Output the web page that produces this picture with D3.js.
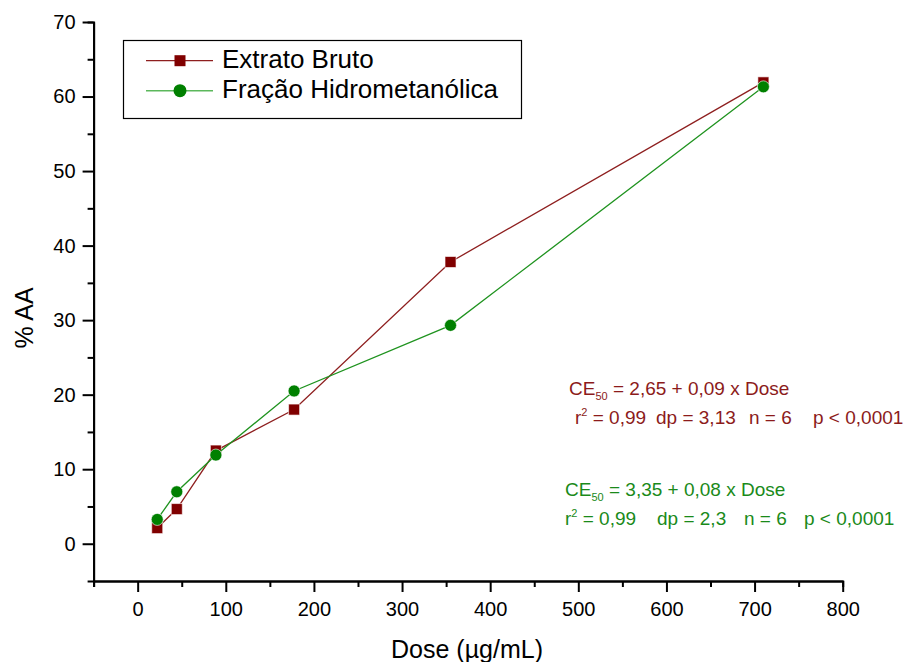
<!DOCTYPE html>
<html lang="pt">
<head>
<meta charset="UTF-8">
<script src="https://d3js.org/d3.v7.min.js"></script>
<style>
  body { margin: 0; background: #fff; }
  text { font-family: Arial, "Liberation Sans", sans-serif; }
</style>
</head>
<body>
<div class="chart"></div>
<script>
// data
var doses = [22.2, 44.4, 88.75, 177.5, 355, 710]
var extrato = [2.1, 4.65, 12.5, 18.0, 37.8, 61.9]
var fracao = [3.26, 6.97, 11.9, 20.5, 29.3, 61.3]
var seriesNames = ["Extrato Bruto", "Fração Hidrometanólica"]
var xTicks = [0, 100, 200, 300, 400, 500, 600, 700, 800]
var yTicks = [0, 10, 20, 30, 40, 50, 60, 70]

var width = 904, height = 662
var red = "#800000", redLine = "#8e1f1f", redText = "#8c1b1b"
var green = "#008000", greenLine = "#1f931f", greenText = "#1a8a1a"

var svg = d3.select(".chart").append("svg")
    .attr("width", width)
    .attr("height", height)

var x = d3.scaleLinear().domain([-50, 800]).range([93.6, 842.7])
var y = d3.scaleLinear().domain([-5, 70]).range([581, 22])

// minor ticks
svg.append("g")
    .attr("transform", "translate(0," + y(-5) + ")")
    .call(d3.axisBottom(x).tickValues(d3.range(-50, 800, 100)).tickSize(6).tickFormat(""))
svg.append("g")
    .attr("transform", "translate(" + x(-50) + ",0)")
    .call(d3.axisLeft(y).tickValues(d3.range(5, 70, 10)).tickSize(6).tickFormat(""))

// major axes
var xAxis = svg.append("g")
    .attr("transform", "translate(0," + y(-5) + ")")
    .call(d3.axisBottom(x).tickValues(xTicks).tickSize(11).tickPadding(10).tickSizeOuter(0))
var yAxis = svg.append("g")
    .attr("transform", "translate(" + x(-50) + ",0)")
    .call(d3.axisLeft(y).tickValues(yTicks).tickSize(11).tickPadding(7).tickSizeOuter(0))

svg.selectAll(".domain").attr("stroke", "#000").attr("stroke-width", 2)
svg.selectAll(".tick line").attr("stroke", "#000").attr("stroke-width", 2)
svg.selectAll(".tick text").attr("font-size", 20).attr("fill", "#000")
    .attr("font-family", "Arial, 'Liberation Sans', sans-serif")

// axis titles
svg.append("text")
    .attr("x", 467).attr("y", 658)
    .attr("text-anchor", "middle")
    .attr("font-size", 25)
    .text("Dose (µg/mL)")
svg.append("text")
    .attr("transform", "translate(33,318) rotate(-90)")
    .attr("text-anchor", "middle")
    .attr("font-size", 25)
    .text("% AA")

// lines
var line = d3.line()
    .x(function (d) { return x(d[0]) })
    .y(function (d) { return y(d[1]) })

var redData = doses.map(function (d, i) { return [d, extrato[i]] })
var greenData = doses.map(function (d, i) { return [d, fracao[i]] })

svg.append("path").datum(redData)
    .attr("d", line).attr("fill", "none")
    .attr("stroke", redLine).attr("stroke-width", 1.3)
svg.selectAll(".sq").data(redData).enter().append("rect")
    .attr("x", function (d) { return x(d[0]) - 5.5 })
    .attr("y", function (d) { return y(d[1]) - 5.5 })
    .attr("width", 11).attr("height", 11)
    .attr("fill", red).attr("stroke", "#fff").attr("stroke-opacity", 0.6).attr("stroke-width", 1)

svg.append("path").datum(greenData)
    .attr("d", line).attr("fill", "none")
    .attr("stroke", greenLine).attr("stroke-width", 1.3)
svg.selectAll(".ci").data(greenData).enter().append("circle")
    .attr("cx", function (d) { return x(d[0]) })
    .attr("cy", function (d) { return y(d[1]) })
    .attr("r", 6)
    .attr("fill", green).attr("stroke", "#fff").attr("stroke-opacity", 0.6).attr("stroke-width", 1)

// legend
var lg = svg.append("g")
lg.append("rect")
    .attr("x", 123.5).attr("y", 40.5).attr("width", 398).attr("height", 78)
    .attr("fill", "#fff").attr("stroke", "#000").attr("stroke-width", 1.2)
var rows = [60.7, 90.7]
lg.append("line").attr("x1", 146).attr("x2", 213).attr("y1", rows[0]).attr("y2", rows[0])
    .attr("stroke", redLine).attr("stroke-width", 1.3)
lg.append("rect").attr("x", 174.5).attr("y", rows[0] - 5.5).attr("width", 11).attr("height", 11)
    .attr("fill", red)
lg.append("line").attr("x1", 146).attr("x2", 213).attr("y1", rows[1]).attr("y2", rows[1])
    .attr("stroke", "#5cb85c").attr("stroke-width", 1.6)
lg.append("circle").attr("cx", 180).attr("cy", rows[1]).attr("r", 6.5).attr("fill", green)
lg.selectAll(".lt").data(seriesNames).enter().append("text")
    .attr("x", 222)
    .attr("y", function (d, i) { return rows[i] + 7.5 })
    .attr("font-size", 26)
    .text(function (d) { return d })

// annotations
function annot(x0, yb, color, parts1, parts2) {
    var t1 = svg.append("text").attr("x", x0).attr("y", yb).attr("fill", color).attr("font-size", 19)
    t1.append("tspan").text("CE")
    t1.append("tspan").attr("font-size", 11).attr("dy", 5).text("50")
    t1.append("tspan").attr("dy", -5).text(parts1)
    parts2.forEach(function (p) {
        var t = svg.append("text").attr("x", p.x).attr("y", yb + 29).attr("fill", color).attr("font-size", 19)
        if (p.sup) {
            t.append("tspan").text("r")
            t.append("tspan").attr("font-size", 11).attr("dy", -8).text("2")
            t.append("tspan").attr("dy", 8).text(p.t)
        } else {
            t.text(p.t)
        }
    })
}
annot(569, 395, redText, " = 2,65 + 0,09 x Dose", [
    { x: 575, t: " = 0,99", sup: true },
    { x: 656, t: "dp = 3,13" },
    { x: 749, t: "n = 6" },
    { x: 813, t: "p < 0,0001" }
])
annot(565, 496, greenText, " = 3,35 + 0,08 x Dose", [
    { x: 565, t: " = 0,99", sup: true },
    { x: 657, t: "dp = 2,3" },
    { x: 744, t: "n = 6" },
    { x: 804, t: "p < 0,0001" }
])
</script>
</body>
</html>
